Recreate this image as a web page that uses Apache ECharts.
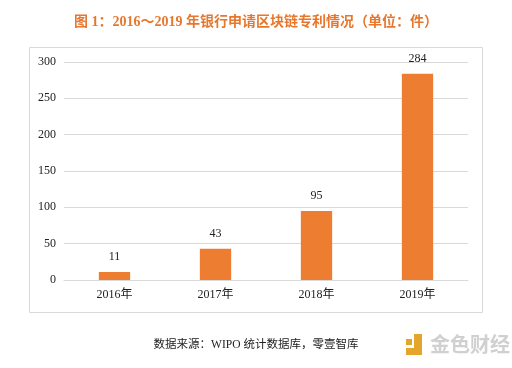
<!DOCTYPE html>
<html><head><meta charset="utf-8">
<script src="https://cdn.jsdelivr.net/npm/echarts@6/dist/echarts.min.js"></script>
<style>html,body{margin:0;padding:0;background:#fff;}#c{width:512px;height:368px;}</style>
</head><body><div id="c"></div>
<script>
const categories = ['2016年','2017年','2018年','2019年'];
const patents = [11, 43, 95, 284];
const yTicks = [0, 50, 100, 150, 200, 250, 300];

const chart = echarts.init(document.getElementById('c'), null, {renderer:'canvas'});
const serif = '"Liberation Serif","Noto Sans CJK SC",serif';
chart.setOption({
  animation:false,
  backgroundColor:'#fff',
  title:{
    text:'图 1：2016～2019 年银行申请区块链专利情况（单位：件）',
    left:'center', top:10,
    textStyle:{color:'#e8772e', fontSize:14, fontWeight:'bold', fontFamily:serif}
  },
  graphic:[
    {type:'rect', shape:{x:29.5,y:47.5,width:453,height:265}, style:{fill:'none',stroke:'#d9d9d9',lineWidth:1}},
    {type:'text', left:'center', top:339, style:{text:'数据来源：WIPO 统计数据库，零壹智库', fill:'#222', font:'11.5px '+serif}},
    {type:'rect', shape:{x:406,y:339,width:6,height:6}, style:{fill:'#e3a62a'}},
    {type:'rect', shape:{x:414,y:334,width:8,height:21}, style:{fill:'#e3a62a'}},
    {type:'rect', shape:{x:406,y:348,width:8,height:7}, style:{fill:'#e3a62a'}},
    {type:'text', left:430, top:334, style:{text:'金色财经', fill:'#d0d0d0', font:'bold 20px "Noto Sans CJK SC",sans-serif'}}
  ],
  grid:{left:64, right:44, top:62, bottom:88, containLabel:false},
  xAxis:{
    type:'category', data:categories,
    axisLine:{lineStyle:{color:'#d9d9d9'}},
    axisTick:{show:false},
    axisLabel:{color:'#222', fontSize:12, fontFamily:serif, margin:9}
  },
  yAxis:{
    type:'value', min:yTicks[0], max:yTicks[yTicks.length-1], interval:50,
    axisLine:{show:false}, axisTick:{show:false},
    splitLine:{lineStyle:{color:'#d9d9d9'}},
    axisLabel:{color:'#222', fontSize:12, fontFamily:serif, margin:8}
  },
  series:[{
    type:'bar', data:patents, barWidth:'31%',
    itemStyle:{color:'#ed7d31'},
    label:{show:true, position:'top', color:'#222', fontSize:12, fontFamily:serif, distance:9}
  }]
});
</script></body></html>
